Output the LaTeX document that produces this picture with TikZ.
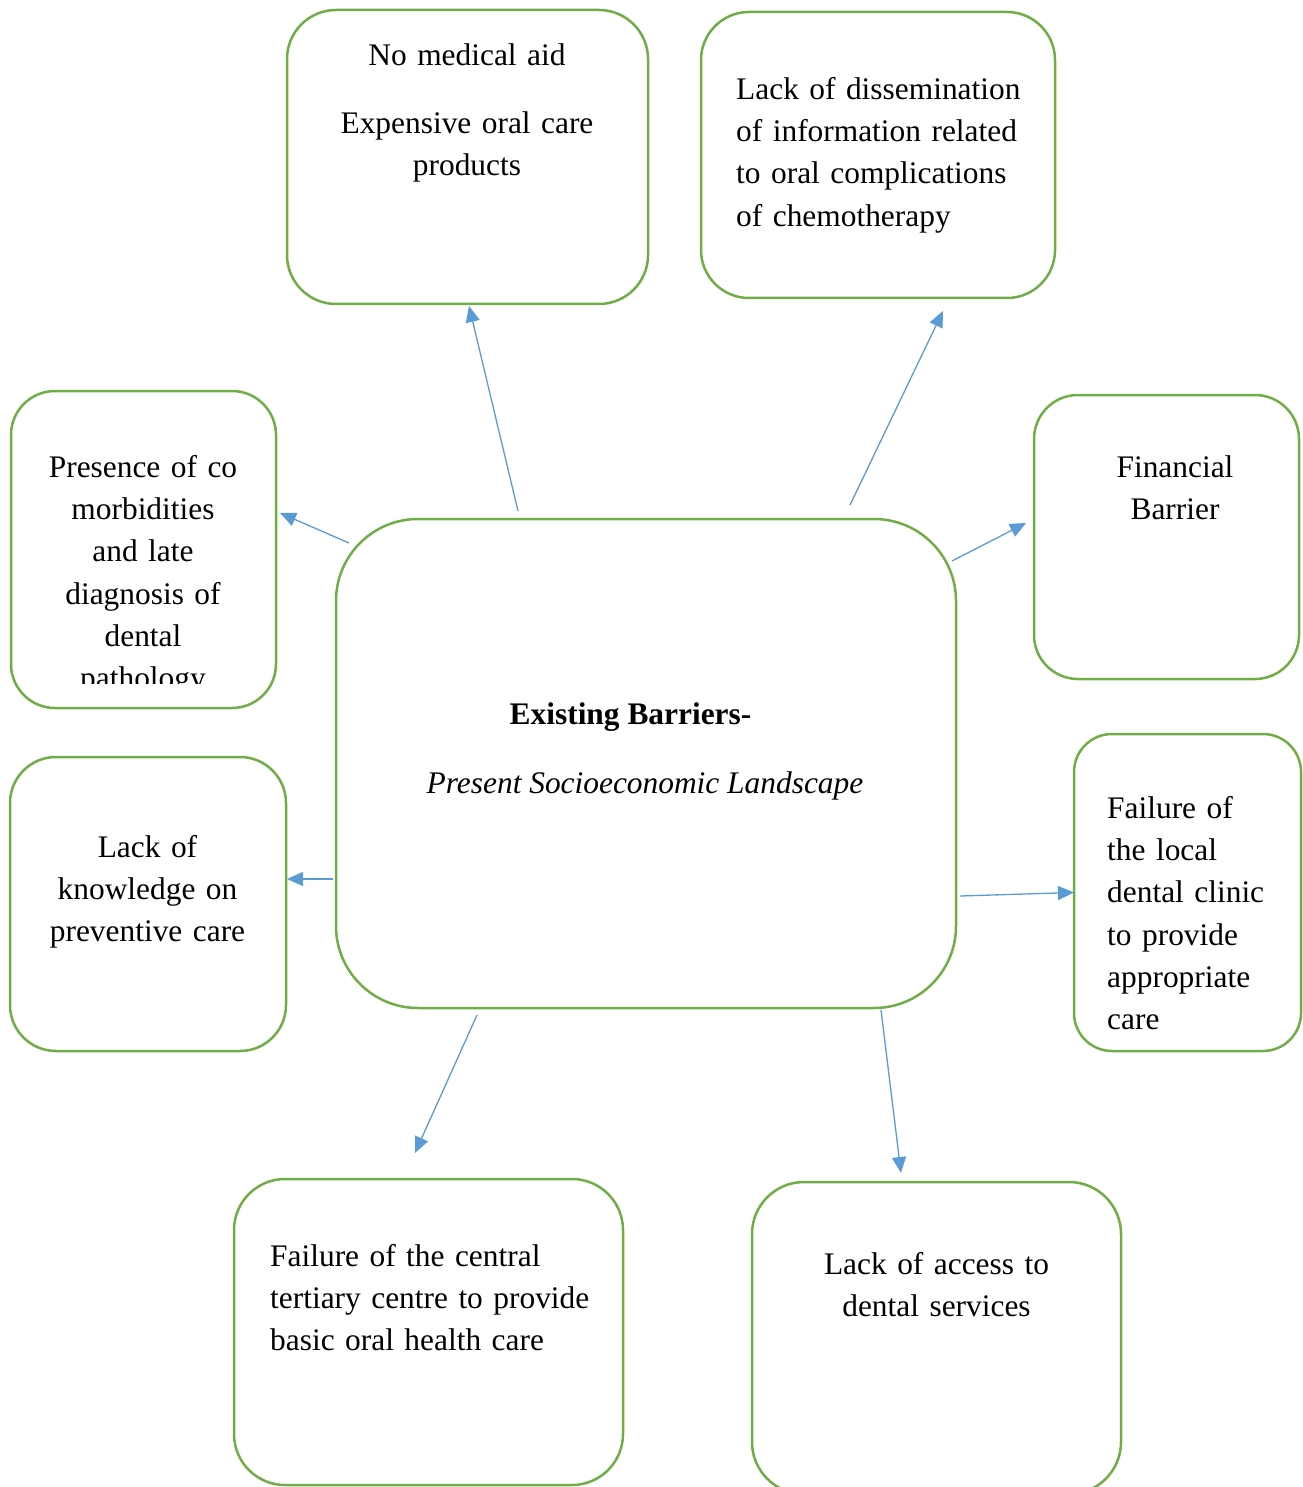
\documentclass[tikz,border=0pt]{standalone}
\usepackage{fontspec}
\setmainfont{Liberation Serif}
\usepackage{tikz}
\usetikzlibrary{arrows.meta}
\definecolor{boxgreen}{HTML}{70AD47}
\definecolor{linkblue}{HTML}{5B9BD5}
\newcommand{\bodysize}{\fontsize{31.4}{42.3}\selectfont}% word-sized text

\begin{document}
\begin{tikzpicture}[x=1pt, y=1pt, >={Triangle[length=16pt,width=14pt]},
  barrierbox/.style={draw=boxgreen, line width=2.5pt, rounded corners=#1, inner sep=0pt, outer sep=0pt},
  link/.style={->, draw=linkblue, line width=1.3pt},
  txt/.style={inner sep=0pt, font=\bodysize}]
\useasboundingbox (0,0) rectangle (1302,-1487);
% boxes
\node[barrierbox=82pt, minimum width=620pt, minimum height=489pt] (barriers) at (646,-763.5) {};
\node[barrierbox=49pt, minimum width=361pt, minimum height=294pt] (aid) at (467.5,-157) {};
\node[barrierbox=48pt, minimum width=354pt, minimum height=286pt] (info) at (878,-155) {};
\node[barrierbox=44pt, minimum width=265pt, minimum height=317pt] (comorb) at (143.5,-549.5) {};
\node[barrierbox=44pt, minimum width=265pt, minimum height=284pt] (finance) at (1166.5,-537) {};
\node[barrierbox=46pt, minimum width=276pt, minimum height=294pt] (knowledge) at (148,-904) {};
\node[barrierbox=38pt, minimum width=227pt, minimum height=317pt] (clinic) at (1187.5,-892.5) {};
\node[barrierbox=51pt, minimum width=389pt, minimum height=306pt] (tertiary) at (428.5,-1332) {};
\node[barrierbox=52pt, minimum width=369pt, minimum height=312pt] (access) at (936.5,-1338) {};
% texts
\node[txt, font=\bodysize\bfseries, anchor=base] (barrierstxt) at (630.5,-724) {Existing Barriers-};
\node[txt, font=\bodysize\itshape, anchor=base] (landscapetxt) at (645,-793) {Present Socioeconomic Landscape};
\node[txt, anchor=north, text width=340pt, align=center] (aidtxt) at (467,-35.4)
  {\strut No medical aid\\[25.7pt]Expensive oral care\\products};
\node[txt, anchor=north west, text width=330pt, align=left] (infotxt) at (736,-69.4)
  {\strut Lack of dissemination\\of information related\\to oral complications\\of chemotherapy};
\begin{scope}
\clip (11,-391) rectangle (276,-683);
\node[txt, anchor=north, text width=250pt, align=center] (comorbtxt) at (143,-447.4)
  {\strut Presence of co\\morbidities\\and late\\diagnosis of\\dental\\pathology};
\end{scope}
\node[txt, anchor=north, text width=220pt, align=center] (financetxt) at (1175,-447.4)
  {\strut Financial\\Barrier};
\node[txt, anchor=north, text width=250pt, align=center] (knowledgetxt) at (147.5,-827.4)
  {\strut Lack of\\knowledge on\\preventive care};
\node[txt, anchor=north west, text width=200pt, align=left] (clinictxt) at (1107,-788.4)
  {\strut Failure of\\the local\\dental clinic\\to provide\\appropriate\\care};
\node[txt, anchor=north west, text width=370pt, align=left] (tertiarytxt) at (270,-1236.4)
  {\strut Failure of the central\\tertiary centre to provide\\basic oral health care};
\node[txt, anchor=north, text width=340pt, align=center] (accesstxt) at (936.5,-1244.4)
  {\strut Lack of access to\\dental services};
% arrows
\draw[link] ([shift={(-128,8)}]barriers.north) -- ([shift={(1.5,-2)}]aid.south);
\draw[link] ([shift={(204,14)}]barriers.north) -- ([shift={(65,-13)}]info.south);
\draw[link] ([shift={(13,-24)}]barriers.north west) -- ([shift={(4,36.5)}]comorb.east);
\draw[link] ([shift={(-4,-42)}]barriers.north east) -- ([shift={(-8,14)}]finance.west);
\draw[link] ([shift={(-3,-115.5)}]barriers.west) -- ([shift={(1,25)}]knowledge.east);
\draw[link] ([shift={(4,-132.5)}]barriers.east) -- (clinic.west);
\draw[link] ([shift={(-169,-7)}]barriers.south) -- ([shift={(-13.5,26)}]tertiary.north);
\draw[link] ([shift={(235,-2)}]barriers.south) -- ([shift={(-35.5,9)}]access.north);
\end{tikzpicture}
\end{document}
